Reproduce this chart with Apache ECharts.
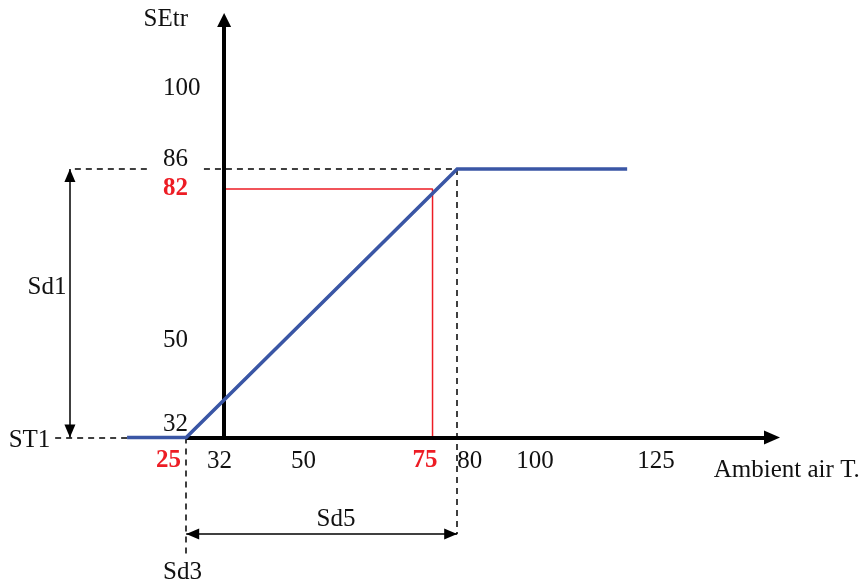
<!DOCTYPE html>
<html>
<head>
<meta charset="utf-8">
<script src="https://cdn.jsdelivr.net/npm/echarts@6/dist/echarts.min.js"></script>
<style>
html,body{margin:0;padding:0;background:#ffffff;}
#chart{width:864px;height:585px;}
</style>
</head>
<body>
<div id="chart"></div>
<script>
// ---------------- data ----------------
const curveX = [13, 25, 80, 114.5];          // ambient air temperature
const curveY = [32, 32, 86, 86];             // SEtr
const ST1 = 32, SD1 = 54, SD3 = 25, SD5 = 55;
const exampleAmbient = 75;
const exampleSEtr = 82;
const xTickValues = [25, 32, 50, 75, 80, 100, 125];
const yTickValues = [32, 50, 82, 86, 100];
const highlightedX = [25, 75];
const highlightedY = [82];
const xAxisTitle = 'Ambient air T.';
const yAxisTitle = 'SEtr';
const noteTexts = ['Sd1', 'ST1', 'Sd5', 'Sd3'];

// ---------------- layout (positions in axis units / px nudges) ----------------
const L = {
  xMin: -12, xMax: 148, yMin: 4, yMax: 120,
  yAxisAtX: 32.7, xAxisEndX: 143.9, yAxisEndY: 116,
  sd1LineX: 1.4, sd5LineY: 12.6, sd3GuideEndY: 8.4,
  st1GuideStartX: -1.6, topGuideStartX: 2.4, topGuideGap: [17.2, 28.6]
};
const titleAnchors = { x: [146.9, 25.4], y: [20.85, 116.0] };
const noteAnchors = [[-3.25, 62.2], [-6.8, 31.5], [55.4, 15.6], [24.25, 4.85]];
const xNudge = {25: -17.7, 32: -1.2, 50: -5.9, 75: -7.6, 80: 12.7, 100: -20.7, 125: -22.9};
const yNudge = {32: -13.5, 50: -8, 82: 0, 86: -10, 100: -11};

// ---------------- styles ----------------
const FONT = 'Liberation Serif';
const FS = 25;
const TXT = '#111111';
const RED = '#ED1C24';
const BLUE = '#3A56A5';

function richFor(values, nudge, hl, horizontal, prefix) {
  const rich = {};
  values.forEach(v => {
    const d = nudge[v] || 0;
    const pad = horizontal
      ? [0, d < 0 ? -2 * d : 0, 0, d > 0 ? 2 * d : 0]
      : [d > 0 ? 2 * d : 0, 0, d < 0 ? -2 * d : 0, 0];
    const isHl = hl.includes(v);
    rich[prefix + v] = {
      fontFamily: FONT, fontSize: FS,
      color: isHl ? RED : TXT,
      fontWeight: isHl ? 'bold' : 'normal',
      padding: pad
    };
  });
  return rich;
}

const chart = echarts.init(document.getElementById('chart'), null, {renderer: 'canvas'});

const curveData = curveX.map((x, i) => [x, curveY[i]]);
const levelTop = ST1 + SD1, edgeRight = SD3 + SD5;
const dimEnd = c => ({coord: c, symbol: 'triangle', symbolSize: [11, 13], symbolOffset: [0, 6.5]});

const option = {
  animation: false,
  backgroundColor: '#ffffff',
  grid: {left: 3.9, right: 71.8, top: 0, bottom: 8.25, containLabel: false, outerBoundsMode: 'none'},
  xAxis: {
    type: 'value', min: L.xMin, max: L.xMax,
    offset: -139.25,
    axisLine: {show: false, onZero: false},
    axisTick: {show: false},
    splitLine: {show: false},
    axisLabel: {
      customValues: xTickValues,
      margin: 23.5,
      verticalAlign: 'middle',
      formatter: v => '{x' + v + '|' + v + '}',
      rich: richFor(xTickValues, xNudge, highlightedX, true, 'x')
    }
  },
  yAxis: {
    type: 'value', min: L.yMin, max: L.yMax,
    axisLine: {show: false, onZero: false},
    axisTick: {show: false},
    splitLine: {show: false},
    axisLabel: {
      customValues: yTickValues,
      inside: true,
      margin: 159.1,
      align: 'left',
      verticalAlign: 'middle',
      formatter: v => '{y' + v + '|' + v + '}',
      rich: richFor(yTickValues, yNudge, highlightedY, false, 'y')
    }
  },
  series: [
    {
      name: 'guides', type: 'line', data: [], silent: true,
      markLine: {
        silent: true, symbol: 'none', label: {show: false},
        emphasis: {disabled: true},
        lineStyle: {type: [6, 5], color: '#000', width: 1.5},
        data: [
          [{coord: [L.st1GuideStartX, ST1]}, {coord: [SD3, ST1]}],
          [{coord: [L.topGuideStartX, levelTop]}, {coord: [L.topGuideGap[0], levelTop]}],
          [{coord: [L.topGuideGap[1], levelTop]}, {coord: [edgeRight, levelTop]}],
          [{coord: [SD3, ST1]}, {coord: [SD3, L.sd3GuideEndY]}],
          [{coord: [edgeRight, levelTop]}, {coord: [edgeRight, L.sd5LineY]}]
        ]
      }
    },
    {
      name: 'axes', type: 'line', data: [], silent: true,
      markLine: {
        silent: true, symbol: ['none', 'triangle'], label: {show: false},
        emphasis: {disabled: true},
        lineStyle: {type: 'solid', color: '#000', width: 4},
        data: [
          [{coord: [SD3, ST1]}, {coord: [L.xAxisEndX, ST1], symbolSize: [14, 16]}],
          [{coord: [L.yAxisAtX, ST1 - 0.4]}, {coord: [L.yAxisAtX, L.yAxisEndY], symbolSize: [14, 14]}]
        ]
      }
    },
    {
      name: 'dimensions', type: 'line', data: [], silent: true,
      markLine: {
        silent: true, symbol: ['triangle', 'triangle'],
        label: {show: false},
        emphasis: {disabled: true},
        lineStyle: {type: 'solid', color: '#000', width: 1.5},
        data: [
          [dimEnd([L.sd1LineX, ST1]), dimEnd([L.sd1LineX, levelTop])],
          [dimEnd([SD3, L.sd5LineY]), dimEnd([edgeRight, L.sd5LineY])]
        ]
      }
    },
    {
      name: 'example', type: 'line', silent: true, symbol: 'none',
      lineStyle: {color: RED, width: 1.5},
      data: [[L.yAxisAtX, exampleSEtr], [exampleAmbient, exampleSEtr], [exampleAmbient, ST1]]
    },
    {
      name: 'SEtr', type: 'line', silent: true, symbol: 'none',
      lineStyle: {color: BLUE, width: 3.6, cap: 'butt', join: 'miter'},
      data: curveData, z: 5
    },
    {
      name: 'notes', type: 'scatter', silent: true, symbolSize: 0, clip: false,
      itemStyle: {opacity: 1, color: 'transparent'},
      label: {
        show: true, position: 'inside', formatter: '{b}',
        fontFamily: FONT, fontSize: FS, color: TXT, opacity: 1,
        textBorderWidth: 0, textShadowBlur: 0
      },
      data: [
        {name: yAxisTitle, value: titleAnchors.y},
        {name: xAxisTitle, value: titleAnchors.x}
      ].concat(noteTexts.map((t, i) => ({name: t, value: noteAnchors[i]}))),
      z: 6
    }
  ]
};
chart.setOption(option);
</script>
</body>
</html>
